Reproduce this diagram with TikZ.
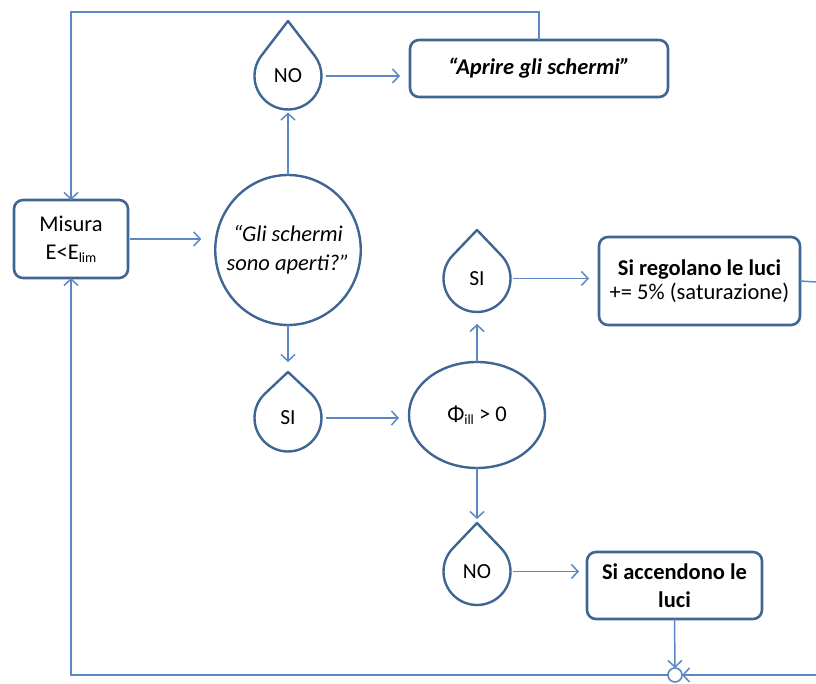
\documentclass[tikz,border=0pt]{standalone}
\usepackage{fontspec}
\setmainfont{Carlito}
\usetikzlibrary{arrows.meta,shapes.geometric,calc}
\definecolor{edgeblue}{HTML}{3F6593}
\definecolor{linkblue}{HTML}{5B87C4}
% teardrop decision marker: name, x, y, tip distance, label
\newcommand\tearnode[5]{%
  \node[drop] (#1) at (#2,#3) {#5};
  \pgfmathsetmacro\tearang{acos(33.5/#4)}
  \coordinate (#1-tip) at ($(#1.center)+(0,#4)$);
  \draw[edgeblue,line width=2.4pt,line join=round]
    (#1-tip) -- ($(#1.center)+({90+\tearang}:33.5)$)
    arc[start angle={90+\tearang}, end angle={450-\tearang}, radius=33.5] -- cycle;
}
\newcommand\subtxt[1]{{\fontsize{14}{14}\selectfont\raisebox{-0.4ex}{#1}}}
\begin{document}
\begin{tikzpicture}[x=1pt,y=1pt,
  box/.style={draw=edgeblue,line width=2.6pt,rounded corners=9pt,align=center,
    inner sep=2pt,outer sep=0pt,font=\fontsize{22.5}{28}\selectfont},
  decision/.style={ellipse,draw=edgeblue,line width=2.4pt,align=center,
    inner sep=0pt,outer sep=0pt,font=\fontsize{22.5}{29}\selectfont\itshape},
  drop/.style={circle,minimum size=67pt,inner sep=0pt,outer sep=0pt,
    font=\fontsize{21.5}{21.5}\selectfont},
  link/.style={draw=linkblue,line width=1.5pt,-{Straight Barb[length=6.5pt,width=14pt,line width=1.5pt]}},
  plain/.style={draw=linkblue,line width=1.5pt},
]
\useasboundingbox (0,0) rectangle (816,684);

% process boxes
\node[box,minimum width=114pt,minimum height=78pt] (mis) at (71,445)
  {Misura\\E<E\subtxt{lim}};
\node[box,minimum width=258pt,minimum height=57pt,font=\fontsize{22.5}{28}\selectfont\bfseries\itshape]
  (apr) at (539,615.5) {“Aprire gli schermi”};
\node[box,minimum width=201pt,minimum height=88pt,font=\fontsize{22.5}{24}\selectfont] (reg) at (699.5,403)
  {\textbf{Si regolano le luci}\\+= 5\% (saturazione)};
\node[box,minimum width=175pt,minimum height=67pt,font=\fontsize{22.5}{28}\selectfont\bfseries]
  (acc) at (674.5,98.5) {Si accendono le\\luci};

% decisions
\node[decision,minimum width=140pt,minimum height=150pt,inner xsep=-10pt] (ell1) at (288,434)
  {“Gli schermi\\sono aperti?”};
\node[decision,minimum width=136pt,minimum height=106pt,font=\fontsize{22.5}{28}\selectfont]
  (phi) at (477,269) {Φ\subtxt{ill} > 0};

% branch markers
\tearnode{no1}{288}{608}{55}{NO}
\tearnode{si1}{288}{266}{46}{SI}
\tearnode{si2}{477}{405.5}{48.5}{SI}
\tearnode{no2}{477}{112.5}{48.5}{NO}

% junction
\node[circle,draw=linkblue,line width=1.6pt,minimum size=14pt,inner sep=0pt,outer sep=0pt]
  (jn) at (675,9) {};

% off-page ends
\coordinate (rout) at (816,402);
\coordinate (rin) at (816,9);
\coordinate (topl) at (71,672);

% connectors
\draw[link,shorten <=2pt,shorten >=14pt] (mis.east) -- (mis.east -| ell1.west);
\draw[link,shorten >=3pt] (ell1.north) -- (no1.south);
\draw[link,shorten <=4pt,shorten >=10pt] (no1.east) -- (no1.east -| apr.west);
\draw[link,shorten >=10pt] (ell1.south) -- (si1-tip);
\draw[link,shorten <=4pt,shorten >=10pt] (si1.east) -- (si1.east -| phi.west);
\draw[link,shorten >=12pt] (phi.north) -- (si2.south);
\draw[link,shorten <=2pt,shorten >=10pt] (si2.east) -- (si2.east -| reg.west);
\draw[link,shorten >=4pt] (phi.south) -- (no2-tip);
\draw[link,shorten <=2pt,shorten >=8pt] (no2.east) -- (no2.east -| acc.west);
\draw[link] (acc.south) -- (jn.north);
\draw[plain] (reg.east) -- (rout);
\draw[link] (rin) -- (jn.east);
\draw[link] (jn.west) -| (mis.south);
\draw[link] (apr.north) |- (topl) -- (mis.north);
\end{tikzpicture}
\end{document}
